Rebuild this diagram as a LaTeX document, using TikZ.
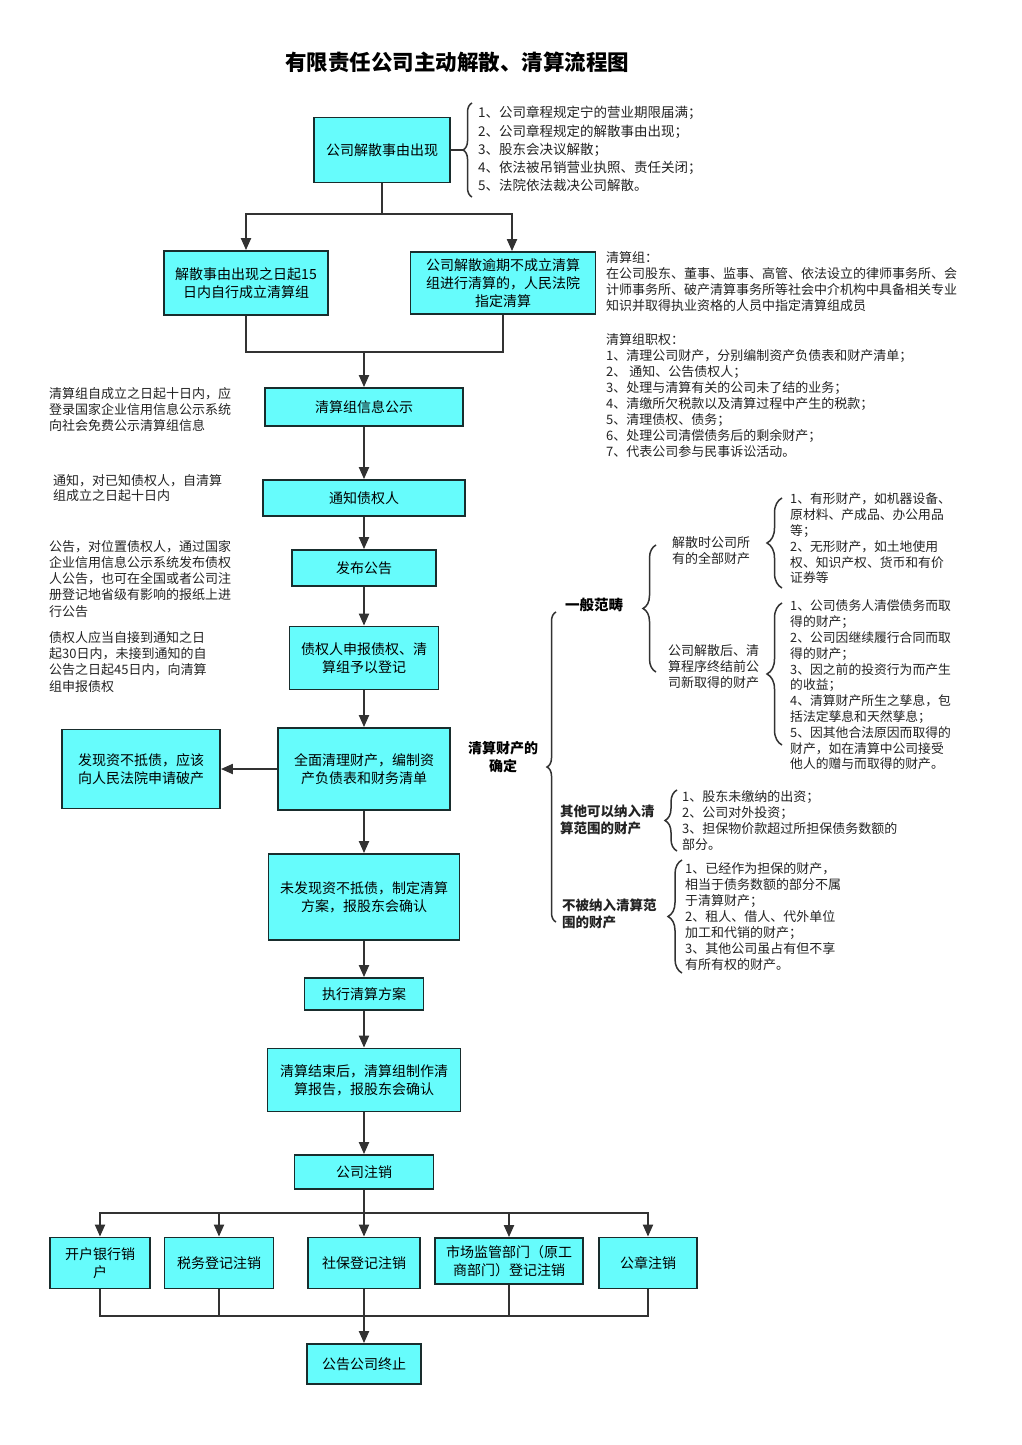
\documentclass[tikz,border=0pt]{standalone}
\usepackage{fontspec}
\setmainfont{Noto Sans CJK SC}
\usetikzlibrary{arrows.meta,decorations.pathreplacing,calc}
\definecolor{boxfill}{RGB}{102,252,252}
\definecolor{boxline}{RGB}{25,45,45}
\definecolor{arrowc}{RGB}{50,50,50}
\definecolor{notec}{RGB}{35,35,35}
\begin{document}
\begin{tikzpicture}[x=1pt,y=-1pt,
 fbox/.style={draw=boxline, fill=boxfill, line width=1.8pt, align=center, inner sep=2pt, font=\fontsize{14}{18}\selectfont, text=black},
 arr/.style={draw=arrowc, line width=2pt, -{Triangle[length=12pt,width=10pt]}},
 ln/.style={draw=arrowc, line width=2pt},
 note/.style={anchor=north west, align=left, inner sep=0pt, font=\fontsize{13}{16}\selectfont, text=notec},
 brc/.style={draw=arrowc, line width=1.5pt, decorate, decoration={brace, amplitude=#1}},
 brc/.default=10,
]
\useasboundingbox[fill=white] (0,0) rectangle (1022,1445);

% title
\node[font=\fontsize{21.5}{24}\selectfont\bfseries] (title) at (457,62) {有限责任公司主动解散、清算流程图};

% main flow
\node[fbox, minimum width=136pt, minimum height=65pt] (b1) at (382,150) {公司解散事由出现};
\node[fbox, minimum width=164pt, minimum height=64pt] (b2a) at (246,283) {解散事由出现之日起15\\日内自行成立清算组};
\node[fbox, minimum width=185pt, minimum height=62pt] (b2b) at (503,283) {公司解散逾期不成立清算\\组进行清算的，人民法院\\指定清算};
\node[fbox, minimum width=198pt, minimum height=38pt] (b3) at (364,407) {清算组信息公示};
\node[fbox, minimum width=202pt, minimum height=36pt] (b4) at (364,498) {通知债权人};
\node[fbox, minimum width=144pt, minimum height=36pt] (b5) at (364,568) {发布公告};
\node[fbox, minimum width=149pt, minimum height=63pt] (b6) at (364,658) {债权人申报债权、清\\算组予以登记};
\node[fbox, minimum width=172pt, minimum height=82pt] (b7) at (364,769) {全面清理财产，编制资\\产负债表和财务清单};
\node[fbox, minimum width=158pt, minimum height=79pt] (b7l) at (141,769) {发现资不抵债，应该\\向人民法院申请破产};
\node[fbox, minimum width=191pt, minimum height=86pt] (b8) at (364,897) {未发现资不抵债，制定清算\\方案，报股东会确认};
\node[fbox, minimum width=119pt, minimum height=32pt] (b9) at (364,994) {执行清算方案};
\node[fbox, minimum width=193pt, minimum height=63pt] (b10) at (364,1080) {清算结束后，清算组制作清\\算报告，报股东会确认};
\node[fbox, minimum width=139pt, minimum height=34pt] (b11) at (364,1172) {公司注销};

\node[fbox, minimum width=100pt, minimum height=51pt] (c1) at (100,1263) {开户银行销\\户};
\node[fbox, minimum width=109pt, minimum height=51pt] (c2) at (219,1263) {税务登记注销};
\node[fbox, minimum width=112pt, minimum height=51pt] (c3) at (364,1263) {社保登记注销};
\node[fbox, minimum width=148pt, minimum height=46pt] (c4) at (509,1261) {市场监管部门（原工\\商部门）登记注销};
\node[fbox, minimum width=98pt, minimum height=51pt] (c5) at (648,1263) {公章注销};
\node[fbox, minimum width=114pt, minimum height=40pt] (end) at (364,1364) {公告公司终止};

% connectors
\coordinate (s1) at (382,214);
\draw[ln] (b1.south) -- (s1);
\draw[arr] (s1) -| (b2a.north);
\draw[arr] (s1) -| ([xshift=9pt]b2b.north);
\coordinate (m1) at (364,352);
\draw[ln] (b2a.south) |- (m1) -| (b2b.south);
\draw[arr] (m1) -- (b3.north);
\draw[arr] (b3.south) -- (b4.north);
\draw[arr] (b4.south) -- (b5.north);
\draw[arr] (b5.south) -- (b6.north);
\draw[arr] (b6.south) -- (b7.north);
\draw[arr] (b7.west) -- (b7l.east);
\draw[arr] (b7.south) -- (b8.north);
\draw[arr] (b8.south) -- (b9.north);
\draw[arr] (b9.south) -- (b10.north);
\draw[arr] (b10.south) -- (b11.north);
\coordinate (s2) at (364,1213);
\draw[ln] (b11.south) -- (s2);
\draw[arr] (s2) -| (c1.north);
\draw[arr] (s2) -| (c2.north);
\draw[arr] (s2) -- (c3.north);
\draw[arr] (s2) -| (c4.north);
\draw[arr] (s2) -| (c5.north);
\coordinate (m2) at (364,1316);
\draw[ln] (c1.south) |- (m2);
\draw[ln] (c5.south) |- (m2);
\draw[ln] (c2.south) -- (c2.south |- m2);
\draw[ln] (c4.south) -- (c4.south |- m2);
\draw[arr] (c3.south) -- (end.north);

% top list with brace
\coordinate (t0) at (463,150);
\draw[ln] (b1.east) -- (t0);
\draw[brc=9] (472,197) -- (472,103);
\node[note, font=\fontsize{13.5}{18.3}\selectfont] (tl) at (478,106) {1、公司章程规定宁的营业期限届满；\\2、公司章程规定的解散事由出现；\\3、股东会决议解散；\\4、依法被吊销营业执照、责任关闭；\\5、法院依法裁决公司解散。};

% right notes
\node[note] (r1) at (606,251) {清算组：\\在公司股东、董事、监事、高管、依法设立的律师事务所、会\\计师事务所、破产清算事务所等社会中介机构中具备相关专业\\知识并取得执业资格的人员中指定清算组成员};
\node[note] (r2) at (606,333) {清算组职权：\\1、清理公司财产，分别编制资产负债表和财产清单；\\2、 通知、公告债权人；\\3、处理与清算有关的公司未了结的业务；\\4、清缴所欠税款以及清算过程中产生的税款；\\5、清理债权、债务；\\6、处理公司清偿债务后的剩余财产；\\7、代表公司参与民事诉讼活动。};

% left notes
\node[note] (n1) at (49,387) {清算组自成立之日起十日内，应\\登录国家企业信用信息公示系统\\向社会免费公示清算组信息};
\node[note, font=\fontsize{13}{15.5}\selectfont] (n2) at (53,474) {通知，对已知债权人，自清算\\组成立之日起十日内};
\node[note, font=\fontsize{13}{16.2}\selectfont] (n3) at (49,540) {公告，对位置债权人，通过国家\\企业信用信息公示系统发布债权\\人公告，也可在全国或者公司注\\册登记地省级有影响的报纸上进\\行公告};
\node[note, font=\fontsize{13}{16.3}\selectfont] (n4) at (49,631) {债权人应当自接到通知之日\\起30日内，未接到通知的自\\公告之日起45日内，向清算\\组申报债权};

% property tree
\node[font=\fontsize{14}{18}\selectfont\bfseries, align=center, inner sep=0pt] (q0) at (503,757) {清算财产的\\确定};
\draw[brc=9] (556,922) -- (556,612);
\node[anchor=west, inner sep=0pt, font=\fontsize{14.5}{18}\selectfont\bfseries] (g1) at (565,605) {一般范畴};
\draw[brc=13] (656,672) -- (656,545);
\node[note] (g1a) at (672,536) {解散时公司所\\有的全部财产};
\node[note] (g1b) at (668,644) {公司解散后、清\\算程序终结前公\\司新取得的财产};
\draw[brc=15] (782,588) -- (782,498);
\node[note, font=\fontsize{12.8}{15.8}\selectfont] (g1ai) at (790,493) {1、有形财产，如机器设备、\\原材料、产成品、办公用品\\等；\\2、无形财产，如土地使用\\权、知识产权、货币和有价\\证券等};
\draw[brc=15] (782,745) -- (782,603);
\node[note, font=\fontsize{12.8}{15.8}\selectfont] (g1bi) at (790,600) {1、公司债务人清偿债务而取\\得的财产；\\2、公司因继续履行合同而取\\得的财产；\\3、因之前的投资行为而产生\\的收益；\\4、清算财产所生之孳息，包\\括法定孳息和天然孳息；\\5、因其他合法原因而取得的\\财产，如在清算中公司接受\\他人的赠与而取得的财产。};

\node[note, font=\fontsize{13.5}{17}\selectfont\bfseries] (g2) at (560,805) {其他可以纳入清\\算范围的财产};
\draw[brc=12] (677,851) -- (677,790);
\node[note] (g2i) at (682,790) {1、股东未缴纳的出资；\\2、公司对外投资；\\3、担保物价款超过所担保债务数额的\\部分。};

\node[note, font=\fontsize{13.5}{17}\selectfont\bfseries] (g3) at (562,899) {不被纳入清算范\\围的财产};
\draw[brc=14] (682,973) -- (682,860);
\node[note] (g3i) at (685,862) {1、已经作为担保的财产，\\相当于债务数额的部分不属\\于清算财产；\\2、租人、借人、代外单位\\加工和代销的财产；\\3、其他公司虽占有但不享\\有所有权的财产。};
\end{tikzpicture}
\end{document}
